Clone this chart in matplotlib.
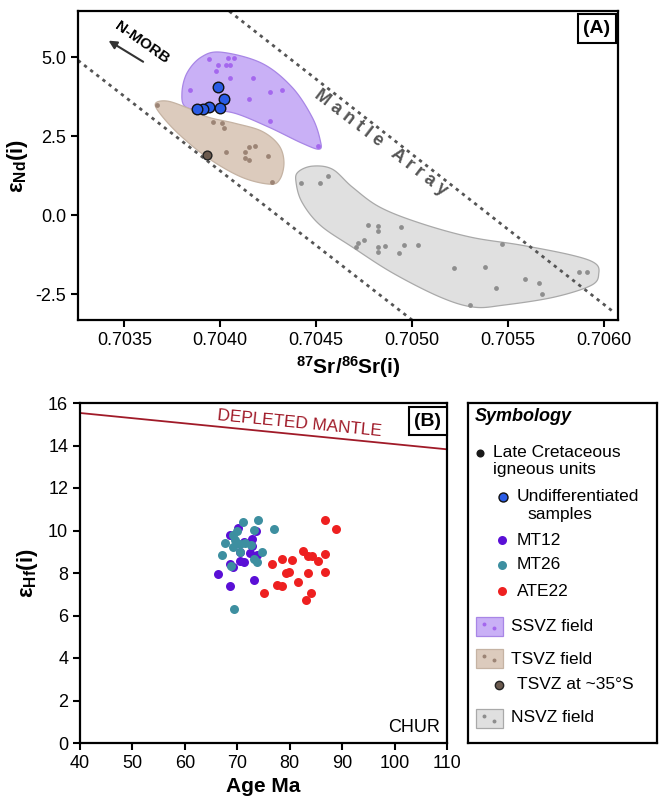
import numpy as np
import matplotlib
matplotlib.use("Agg")
import matplotlib.pyplot as plt
from matplotlib.patches import Rectangle
from matplotlib.ticker import FormatStrFormatter

plt.rcParams['font.family'] = ['Liberation Sans', 'DejaVu Sans']
plt.rcParams['mathtext.default'] = 'regular'

# ---------------------------
# Panel A data: 87Sr/86Sr(i) vs eNd(i)
# ---------------------------
ssvz_x = [0.70394, 0.70399, 0.70403, 0.70405, 0.70407, 0.70404, 0.70398, 0.70405,
          0.70417, 0.70384, 0.70415, 0.70426, 0.70432, 0.70426, 0.70451]
ssvz_y = [4.94, 4.75, 4.75, 4.75, 4.97, 4.97, 4.56, 4.34,
          4.34, 3.96, 3.67, 3.89, 3.96, 2.97, 2.18]

tsvz_x = [0.70367, 0.70396, 0.70401, 0.70402, 0.70415, 0.70418, 0.70413, 0.70413,
          0.70415, 0.70403, 0.70425, 0.70427]
tsvz_y = [3.48, 2.94, 2.91, 2.75, 2.15, 2.18, 2.00, 1.80, 1.74, 2.00, 1.87, 1.04]

tsvz35_x = [0.70393]
tsvz35_y = [1.90]

nsvz_x = [0.70442, 0.70452, 0.70456, 0.70477, 0.70482, 0.70482, 0.70494, 0.70475,
          0.70472, 0.70471, 0.70482, 0.70486, 0.70482, 0.70496, 0.70503, 0.70493,
          0.70522, 0.70538, 0.70547, 0.70544, 0.70559, 0.70566, 0.70568, 0.70530,
          0.70587, 0.70591]
nsvz_y = [1.01, 1.01, 1.23, -0.32, -0.35, -0.51, -0.38, -0.79,
          -0.89, -1.01, -1.01, -0.98, -1.17, -0.95, -0.95, -1.20,
          -1.68, -1.65, -0.92, -2.31, -2.03, -2.15, -2.50, -2.85,
          -1.80, -1.80]

undiff_x = [0.70399, 0.70402, 0.70400, 0.70394, 0.70391, 0.70388]
undiff_y = [4.05, 3.67, 3.39, 3.42, 3.35, 3.35]

# field outlines
ssvz_field_x = [0.704005, 0.704216, 0.704374, 0.704479, 0.704521, 0.704516, 0.704426,
                0.704253, 0.704074, 0.703937, 0.703821, 0.703800, 0.703826, 0.703900]
ssvz_field_y = [5.158, 4.810, 4.051, 3.101, 2.373, 2.089, 2.278,
                2.785, 3.228, 3.323, 3.418, 3.861, 4.494, 5.000]

tsvz_field_x = [0.703663, 0.703726, 0.703832, 0.703937, 0.704074, 0.704216, 0.704305,
                0.704332, 0.704311, 0.704258, 0.704111, 0.703937, 0.703784, 0.703684]
tsvz_field_y = [3.544, 3.608, 3.386, 3.101, 2.911, 2.658, 2.215,
                1.677, 1.139, 0.981, 1.203, 1.804, 2.563, 3.228]

nsvz_field_x = [0.704405, 0.704479, 0.704584, 0.704689, 0.704832, 0.705042, 0.705305,
                0.705568, 0.705832, 0.705953, 0.705974, 0.705937, 0.705742, 0.705479,
                0.705321, 0.705147, 0.704900, 0.704689, 0.704521, 0.704426, 0.704395]
nsvz_field_y = [1.361, 1.550, 1.456, 0.886, 0.253, -0.253, -0.696,
                -0.949, -1.266, -1.519, -1.835, -2.215, -2.595, -2.848,
                -2.912, -2.595, -1.835, -1.013, -0.317, 0.411, 1.044]

# mantle array boundaries
array_upper_x = [0.704047, 0.706058]
array_upper_y = [6.456, -3.10]
array_lower_x = [0.703258, 0.705000]
array_lower_y = [4.90, -3.32]

# ---------------------------
# Panel B data: Age vs eHf(i)
# ---------------------------
mt12_age = [70.2, 73.6, 68.6, 72.8, 71.2, 72.8, 70.5, 72.4, 73.7, 70.5, 71.2,
            68.6, 69.2, 66.4, 68.6, 73.1]
mt12_ehf = [10.11, 10.00, 9.77, 9.58, 9.45, 9.29, 8.97, 8.95, 8.87, 8.58, 8.50,
            8.43, 8.27, 7.95, 7.40, 7.68]

mt26_age = [71.0, 74.0, 76.9, 73.1, 70.0, 69.2, 67.7, 69.1, 70.5, 71.5, 72.6,
            70.6, 67.0, 74.8, 73.2, 73.8, 68.7, 69.3, 69.6]
mt26_ehf = [10.40, 10.51, 10.08, 10.04, 9.96, 9.77, 9.40, 9.21, 9.37, 9.42, 9.34,
            8.98, 8.87, 9.01, 8.66, 8.50, 8.34, 6.30, 9.53]

ate22_age = [86.7, 88.8, 82.6, 83.5, 84.2, 86.7, 85.3, 76.6, 78.5, 80.5, 83.4,
             86.7, 79.2, 79.9, 81.6, 77.6, 78.6, 75.1, 84.0, 83.1]
ate22_ehf = [10.48, 10.05, 9.02, 8.82, 8.82, 8.90, 8.58, 8.43, 8.66, 8.63, 8.00,
             8.07, 8.00, 8.06, 7.59, 7.43, 7.40, 7.08, 7.04, 6.73]

dm_age = [40, 110]
dm_ehf = [15.53, 13.82]

# colours
C_SSVZ_FILL, C_SSVZ_EDGE, C_SSVZ_DOT = '#c9b0f6', '#a886e6', '#a467ee'
C_TSVZ_FILL, C_TSVZ_EDGE, C_TSVZ_DOT = '#dccbbd', '#c5b3a3', '#9c8475'
C_NSVZ_FILL, C_NSVZ_EDGE, C_NSVZ_DOT = '#e0e0e0', '#a9a9a9', '#8e8e8e'
C_UNDIFF = '#2a5ce6'
C_MT12 = '#5a0fd6'
C_MT26 = '#3d8fa0'
C_ATE22 = '#ee2020'
C_TSVZ35 = '#6b5a4e'
C_DM = '#a01a28'


def smooth_closed(xs, ys, n=24):
    # closed Catmull-Rom spline through the outline points
    p = np.column_stack([xs, ys])
    k = len(p)
    t = np.linspace(0, 1, n, endpoint=False)[:, None]
    out = []
    for i in range(k):
        p0, p1, p2, p3 = p[(i - 1) % k], p[i], p[(i + 1) % k], p[(i + 2) % k]
        out.append(0.5 * (2 * p1 + (-p0 + p2) * t + (2 * p0 - 5 * p1 + 4 * p2 - p3) * t ** 2
                          + (-p0 + 3 * p1 - 3 * p2 + p3) * t ** 3))
    pts = np.vstack(out)
    return pts[:, 0], pts[:, 1]


def style_axes(ax):
    for s in ax.spines.values():
        s.set_linewidth(1.6)
    ax.tick_params(direction='out', length=5, width=1.5, labelsize=13)


fig = plt.figure(figsize=(6.65, 8.0), dpi=100)

# ---------------------------
# Panel A
# ---------------------------
axA = fig.add_axes([0.1173, 0.600, 0.812, 0.386])
style_axes(axA)
axA.set_xlim(0.703258, 0.706074)
axA.set_ylim(-3.32, 6.456)

for fx, fy, fc, ec in [(ssvz_field_x, ssvz_field_y, C_SSVZ_FILL, C_SSVZ_EDGE),
                       (tsvz_field_x, tsvz_field_y, C_TSVZ_FILL, C_TSVZ_EDGE),
                       (nsvz_field_x, nsvz_field_y, C_NSVZ_FILL, C_NSVZ_EDGE)]:
    sx, sy = smooth_closed(fx, fy)
    axA.fill(sx, sy, facecolor=fc, edgecolor=ec, linewidth=0.9, zorder=1)

axA.plot(array_upper_x, array_upper_y, color='#555555', lw=2, ls=(0, (1.2, 1.6)), zorder=2)
axA.plot(array_lower_x, array_lower_y, color='#555555', lw=2, ls=(0, (1.2, 1.6)), zorder=2)

axA.scatter(ssvz_x, ssvz_y, s=12, color=C_SSVZ_DOT, lw=0, zorder=3)
axA.scatter(tsvz_x, tsvz_y, s=12, color=C_TSVZ_DOT, lw=0, zorder=3)
axA.scatter(nsvz_x, nsvz_y, s=12, color=C_NSVZ_DOT, lw=0, zorder=3)
axA.scatter(tsvz35_x, tsvz35_y, s=40, color=C_TSVZ35, edgecolor='#222222', lw=1, zorder=4)
axA.scatter(undiff_x, undiff_y, s=58, color=C_UNDIFF, edgecolor='#111111', lw=1, zorder=4)

axA.text(0.704837, 2.28, 'M a n t l e   A r r a y', rotation=-37.5, color='#555555',
         fontsize=13, fontweight='bold', ha='center', va='center', rotation_mode='anchor')
axA.text(0.70359, 5.47, 'N-MORB', rotation=-35, fontsize=11, fontweight='bold',
         ha='center', va='center', rotation_mode='anchor')
axA.annotate('', xy=(0.703405, 5.57), xytext=(0.70361, 4.81),
             arrowprops=dict(arrowstyle='-|>', color='#333333', lw=1.5, mutation_scale=12))
axA.text(0.961, 0.943, '(A)', transform=axA.transAxes, ha='center', va='center',
         fontsize=14, fontweight='bold',
         bbox=dict(boxstyle='square,pad=0.3', fc='white', ec='black', lw=1.5))

axA.set_xticks([0.7035, 0.7040, 0.7045, 0.7050, 0.7055, 0.7060])
axA.set_yticks([-2.5, 0.0, 2.5, 5.0])
axA.xaxis.set_major_formatter(FormatStrFormatter('%.4f'))
axA.yaxis.set_major_formatter(FormatStrFormatter('%.1f'))
axA.set_xlabel(r'$^{87}$Sr/$^{86}$Sr(i)', fontsize=15, fontweight='bold', labelpad=4)
axA.set_ylabel(r'ε$_{Nd}$(i)', fontsize=16, fontweight='bold', labelpad=4)

# ---------------------------
# Panel B
# ---------------------------
axB = fig.add_axes([0.1203, 0.07125, 0.552, 0.425])
style_axes(axB)
axB.set_xlim(40, 110)
axB.set_ylim(0, 16)
axB.set_xticks(range(40, 111, 10))
axB.set_yticks(range(0, 17, 2))

axB.plot(dm_age, dm_ehf, color=C_DM, lw=1.3)
axB.text(81.8, 15.05, 'DEPLETED MANTLE', color=C_DM, fontsize=12.4, rotation=-5.6,
         ha='center', va='center', rotation_mode='anchor')
axB.text(0.981, 0.02, 'CHUR', transform=axB.transAxes, ha='right', va='bottom', fontsize=13)

axB.scatter(mt12_age, mt12_ehf, s=42, color=C_MT12, lw=0, zorder=3)
axB.scatter(mt26_age, mt26_ehf, s=42, color=C_MT26, lw=0, zorder=3)
axB.scatter(ate22_age, ate22_ehf, s=42, color=C_ATE22, lw=0, zorder=3)

axB.text(0.948, 0.947, '(B)', transform=axB.transAxes, ha='center', va='center',
         fontsize=14, fontweight='bold',
         bbox=dict(boxstyle='square,pad=0.3', fc='white', ec='black', lw=1.5))
axB.set_xlabel('Age Ma', fontsize=15, fontweight='bold', labelpad=4)
axB.set_ylabel(r'ε$_{Hf}$(i)', fontsize=16, fontweight='bold', labelpad=6)

# ---------------------------
# Symbology box
# ---------------------------
axL = fig.add_axes([0.7038, 0.07125, 0.284, 0.425])
axL.set_xlim(0, 1)
axL.set_ylim(0, 1)
axL.set_xticks([])
axL.set_yticks([])
for s in axL.spines.values():
    s.set_linewidth(1.6)

fs = 12.5
axL.text(0.037, 0.959, 'Symbology', fontsize=13, fontweight='bold', style='italic',
         ha='left', va='center')

dot_items = [
    (0.063, 0.853, '#1a1a1a', None, [(0.132, 0.853, 'Late Cretaceous'), (0.132, 0.803, 'igneous units')], 34),
    (0.185, 0.724, C_UNDIFF, '#111111', [(0.259, 0.724, 'Undifferentiated'), (0.317, 0.671, 'samples')], 42),
    (0.180, 0.597, C_MT12, None, [(0.259, 0.597, 'MT12')], 42),
    (0.180, 0.524, C_MT26, None, [(0.259, 0.524, 'MT26')], 42),
    (0.180, 0.447, C_ATE22, None, [(0.259, 0.447, 'ATE22')], 42),
    (0.164, 0.171, C_TSVZ35, '#222222', [(0.259, 0.171, 'TSVZ at ~35°S')], 36),
]
for x, y, c, ec, labels, size in dot_items:
    axL.scatter([x], [y], s=size, color=c, edgecolor=ec if ec else c, lw=1 if ec else 0,
                clip_on=False)
    for tx, ty, t in labels:
        axL.text(tx, ty, t, fontsize=fs, ha='left', va='center')

patch_items = [
    (0.315, C_SSVZ_FILL, C_SSVZ_EDGE, C_SSVZ_DOT, 'SSVZ field', 0.344),
    (0.221, C_TSVZ_FILL, C_TSVZ_EDGE, C_TSVZ_DOT, 'TSVZ field', 0.247),
    (0.044, C_NSVZ_FILL, C_NSVZ_EDGE, C_NSVZ_DOT, 'NSVZ field', 0.074),
]
for y0, fc, ec, dc, label, ty in patch_items:
    axL.add_patch(Rectangle((0.042, y0), 0.143, 0.056, facecolor=fc, edgecolor=ec, lw=0.9))
    axL.scatter([0.085, 0.14], [y0 + 0.036, y0 + 0.022], s=8, color=dc, lw=0)
    axL.text(0.228, ty, label, fontsize=fs, ha='left', va='center')

fig.savefig('out.png', dpi=100)
